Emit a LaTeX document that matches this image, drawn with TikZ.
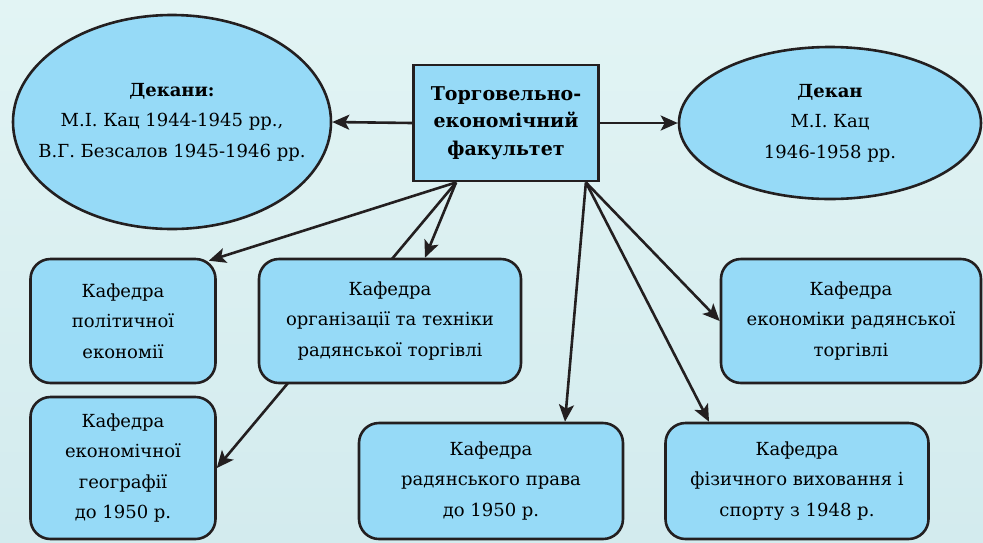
\documentclass[tikz,border=0pt]{standalone}
\usepackage{fontspec}
\setmainfont{DejaVu Serif}
\newfontfamily\kafserif{DejaVu Serif}
\usepackage{tikz}
\usetikzlibrary{shapes}
\usetikzlibrary{shapes.geometric}
\usetikzlibrary{arrows.meta}
\usetikzlibrary{backgrounds}
\usepackage{xcolor}
\definecolor{myblack}{HTML}{231F20}
\definecolor{myblue}{HTML}{96DAF7}
\definecolor{bgtop}{HTML}{E2F4F4}
\definecolor{bgbottom}{HTML}{D3EBEE}
\tikzset{every text node part/.style={align=center}}

\begin{document}
\begin{tikzpicture}[
    x=1pt, y=-1pt,
    kafedra/.style={rectangle, rounded corners=20pt, draw=myblack, fill=myblue, line width=2.6pt, inner sep=4pt, font={\kafserif\fontsize{18}{30.5}\selectfont}},
    dekan/.style={ellipse, draw=myblack, fill=myblue, line width=2.6pt, inner sep=0pt, font={\kafserif\fontsize{18}{30.5}\selectfont}},
    faculty/.style={rectangle, draw=myblack, fill=myblue, line width=2.8pt, font={\kafserif\bfseries\fontsize{19}{27.5}\selectfont}},
    line/.style={draw=myblack, line width=2.6pt, -{Stealth[length=17pt, width=15pt, inset=4pt]}}
  ]

  \useasboundingbox (0,0) rectangle (983,542);

  % Define faculty
  \node[faculty, minimum width=185pt, minimum height=116pt] (fac) at (506,123) {Торговельно-\\економічний\\факультет};

  % Define deans
  \node[dekan, inner xsep=-30pt, minimum width=318pt, minimum height=214pt] (deans) at (172,122) {\textbf{Декани:}\\М.І. Кац 1944-1945 рр.,\\В.Г. Безсалов 1945-1946 рр.};
  \node[dekan, minimum width=302pt, minimum height=152pt] (dean) at (830,123) {\textbf{Декан}\\М.І. Кац\\1946-1958 рр.};

  % Define departments
  \node[kafedra, minimum width=185pt, minimum height=124pt] (polit) at (123,321) {Кафедра\\політичної\\економії};
  \node[kafedra, minimum width=262pt, minimum height=124pt] (org) at (390,321) {Кафедра\\організації та техніки\\радянської торгівлі};
  \node[kafedra, minimum width=260pt, minimum height=124pt] (trade) at (851,321) {Кафедра\\економіки радянської\\торгівлі};
  \node[kafedra, minimum width=185pt, minimum height=142pt] (geo) at (123,468) {Кафедра\\економічної\\географії\\до 1950 р.};
  \node[kafedra, minimum width=264pt, minimum height=116pt] (law) at (491,481) {Кафедра\\радянського права\\до 1950 р.};
  \node[kafedra, minimum width=263pt, minimum height=116pt] (sport) at (797,481) {Кафедра\\фізичного виховання і\\спорту з 1948 р.};

  % Define line starts
  \coordinate (fl) at ([xshift=44pt]fac.south west);
  \coordinate (fr) at ([xshift=-14pt]fac.south east);

  % Background and hidden line
  \begin{scope}[on background layer]
    \fill[top color=bgtop, bottom color=bgbottom] (0,0) rectangle (983,542);
    \draw[line] (fl) -- (geo.east);
  \end{scope}

  % Draw lines
  \draw[line] (fac.west) -- (deans.east);
  \draw[line] (fac.east) -- (dean.west);
  \draw[line] (fl) -- ([xshift=-8pt, yshift=-3pt]polit.north east);
  \draw[line] (fl) -- ([xshift=35pt]org.north);
  \draw[line] (fr) -- ([xshift=74pt]law.north);
  \draw[line] (fr) -- ([xshift=-88pt]sport.north);
  \draw[line] (fr) -- (trade.west);

\end{tikzpicture}
\end{document}
